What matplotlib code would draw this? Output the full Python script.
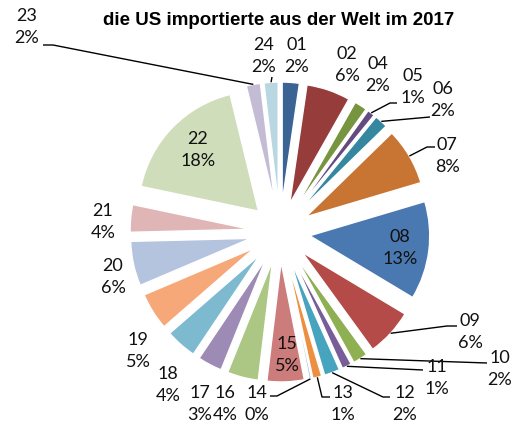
import numpy as np
import matplotlib
matplotlib.use('Agg')
import matplotlib.pyplot as plt

# data: share of US imports 2017 by section
codes = ['01', '02', '04', '05', '06', '07', '08', '09', '10', '11', '12', '13',
         '14', '15', '16', '17', '18', '19', '20', '21', '22', '23', '24']
shares = [2.3, 5.9, 1.7, 1.0, 1.8, 7.7, 13.2, 6.4, 2.0, 1.3, 2.1, 1.2,
          0.3, 5.0, 4.2, 3.3, 4.2, 5.0, 6.0, 3.7, 17.9, 1.9, 1.9]
colors = ['#3B6495', '#963C3B', '#779440', '#634B7F', '#34879E', '#C87533',
          '#4A78B0', '#B54B48', '#8EAF52', '#775E99', '#46A4BE', '#EE8E40',
          '#A8BFDF', '#CC7C7A', '#ACC784', '#9D8BB6', '#7EBACF', '#F6A878',
          '#B5C4DE', '#DFB6B5', '#D0DDBB', '#C4BBD5', '#B8D7E1']
title = 'die US importierte aus der Welt im 2017'

W, H = 515, 425

def px(x, y):
    # image pixel coords (y down) -> data coords
    return x, H - y

# label block centres (image px) and leader elbows
label_pos = {'01': (297, 56), '02': (347, 65), '04': (378, 75), '05': (413, 87),
             '06': (443, 100), '07': (447, 156), '08': (400, 248), '09': (470, 332),
             '10': (500, 369), '11': (437, 378), '12': (405, 404), '13': (343, 404),
             '14': (257, 404), '15': (287, 355), '16': (225, 404), '17': (200, 404),
             '18': (168, 385), '19': (138, 351), '20': (113, 277), '21': (103, 222),
             '22': (198, 150), '23': (27, 27), '24': (264, 56)}
leaders = {'23': [(53, 45), (43, 45)], '24': [(272, 77)],
           '05': [(390, 103), (397, 103)], '06': [(430, 117)],
           '07': [(427, 147), (435, 147)], '09': [(447, 326), (457, 326)],
           '10': [(487, 363)], '11': [(423, 370)],
           '12': [(383, 397), (390, 397)], '13': [(322, 397), (330, 397)],
           '14': [(277, 396), (270, 396)]}

fig = plt.figure(figsize=(W / 100, H / 100), dpi=100)
ax = fig.add_axes([0, 0, 1, 1])

radius = 120
expl = 30
wedges, _ = ax.pie(shares, colors=colors, startangle=90, counterclock=False,
                   radius=radius, center=px(280, 232), explode=[expl] * len(shares),
                   wedgeprops=dict(edgecolor='white', linewidth=1))
ax.set_xlim(0, W)
ax.set_ylim(0, H)
ax.set_aspect('equal')
ax.axis('off')

lab_font = dict(family='Lato', size=13, linespacing=1.4)
for w, code, v in zip(wedges, codes, shares):
    lx, ly = px(*label_pos[code])
    ax.text(lx, ly, f'{code}\n{v:.0f}%', ha='center', va='center', color='#111111', **lab_font)
    if code in leaders:
        tm = np.deg2rad((w.theta1 + w.theta2) / 2)
        cx, cy = w.center
        pts = [(cx + w.r * np.cos(tm), cy + w.r * np.sin(tm))]
        pts += [px(*p) for p in leaders[code]]
        xs, ys = zip(*pts)
        ax.plot(xs, ys, color='black', lw=1, solid_capstyle='butt')

tx, ty = px(279, 20)
ax.text(tx, ty, title, ha='center', va='center', family='Liberation Sans',
        weight='bold', size=13.5)

fig.savefig('out.png', dpi=100)
